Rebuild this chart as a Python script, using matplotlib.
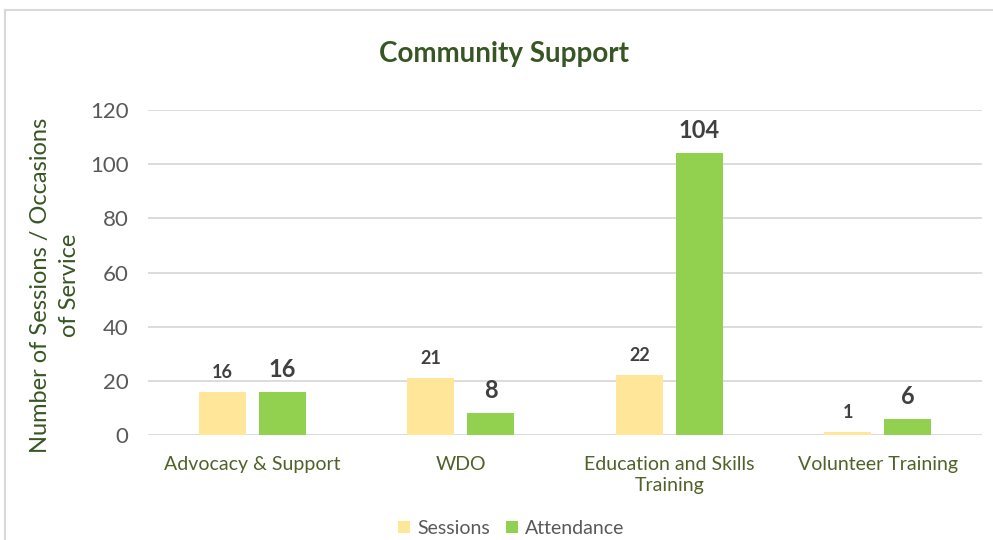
import matplotlib
matplotlib.use("Agg")
import matplotlib.pyplot as plt
import numpy as np
from matplotlib.lines import Line2D

categories = ["Advocacy & Support", "WDO", "Education and Skills\nTraining", "Volunteer Training"]
sessions = [16, 21, 22, 1]
attendance = [16, 8, 104, 6]
yticks = [0, 20, 40, 60, 80, 100, 120]

plt.rcParams["font.family"] = ["Lato", "DejaVu Sans"]

fig = plt.figure(figsize=(9.93, 5.40), dpi=100)
ax = fig.add_axes([0.149, 0.1944, 0.840, 0.6019])

x = np.arange(len(categories))
w = 0.225
off = 0.144
c_sess = "#FFE699"
c_att = "#92D050"

b1 = ax.bar(x - off, sessions, w, color=c_sess, zorder=3, label="Sessions")
b2 = ax.bar(x + off, attendance, w, color=c_att, zorder=3, label="Attendance")

for xi, v in zip(x - off, sessions):
    ax.annotate(str(v), (xi, v), xytext=(0, 8), textcoords="offset points",
                ha="center", va="bottom", fontsize=13, fontweight="bold", color="#404040")
for xi, v in zip(x + off, attendance):
    ax.annotate(str(v), (xi, v), xytext=(0, 8), textcoords="offset points",
                ha="center", va="bottom", fontsize=17, fontweight="bold", color="#404040")

ax.set_xlim(-0.5, len(categories) - 0.5)
ax.set_ylim(0, 120)
ax.set_yticks(yticks)
ax.set_yticklabels([str(t) for t in yticks], fontsize=16, color="#595959")
ax.set_xticks(x)
ax.set_xticklabels(categories, fontsize=14, color="#4F6228", linespacing=1.3)
ax.tick_params(axis="both", length=0)
ax.tick_params(axis="x", pad=15)
ax.tick_params(axis="y", pad=14)
ax.grid(axis="y", color="#D9D9D9", linewidth=1.3, zorder=0)
for s in ax.spines.values():
    s.set_visible(False)

ax.set_ylabel("Number of Sessions / Occasions\nof Service", fontsize=17, color="#375623",
              linespacing=1.5)
ax.yaxis.set_label_coords(-0.081, 0.46)

fig.text(0.508, 0.9, "Community Support", ha="center", va="center",
         fontsize=20, fontweight="bold", color="#375623")

leg = fig.legend(handles=[b1, b2], labels=["Sessions", "Attendance"], loc="center",
                 bbox_to_anchor=(0.515, 0.022), ncol=2, frameon=False, fontsize=14,
                 handlelength=0.6, handleheight=0.6, handletextpad=0.4, columnspacing=0.8)
for t in leg.get_texts():
    t.set_color("#595959")

# chart frame (left and top edges)
fig.add_artist(Line2D([0.0055, 0.0055], [0.0, 0.981], transform=fig.transFigure,
                      color="#D9D9D9", linewidth=1.5))
fig.add_artist(Line2D([0.0055, 1.0], [0.981, 0.981], transform=fig.transFigure,
                      color="#D9D9D9", linewidth=1.5))

fig.savefig("out.png", dpi=100, facecolor="white")
